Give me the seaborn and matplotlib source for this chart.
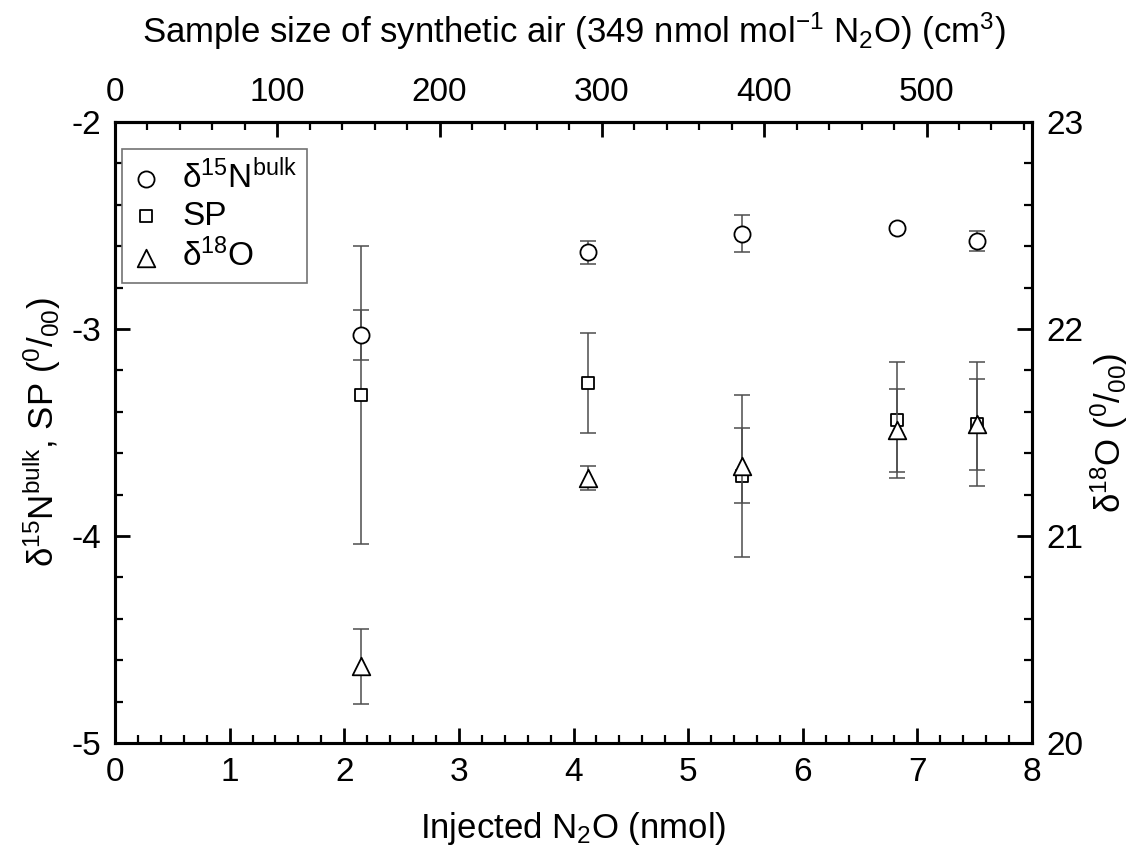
import numpy as np
import pandas as pd
import matplotlib
matplotlib.use("Agg")
import matplotlib.pyplot as plt
import seaborn as sns
from matplotlib.ticker import MultipleLocator, FixedLocator

# ---- data ----
injected_nmol = [2.15, 4.13, 5.47, 6.82, 7.52]
d15n_bulk = [-3.03, -2.63, -2.54, -2.51, -2.575]
d15n_err = [0.12, 0.055, 0.09, 0.01, 0.05]
sp_vals = [-3.32, -3.26, -3.71, -3.44, -3.46]
sp_err = [0.72, 0.24, 0.39, 0.28, 0.30]
d18o_vals = [20.37, 21.28, 21.34, 21.51, 21.54]
d18o_err = [0.18, 0.06, 0.18, 0.20, 0.22]
top_ticks = [0, 100, 200, 300, 400, 500]
cm3_per_nmol = 565.0 / 8.0  # top-axis conversion

sns.set_theme(style="ticks")
plt.rcParams["font.family"] = ["Liberation Sans", "DejaVu Sans"]
plt.rcParams["mathtext.fontset"] = "custom"
plt.rcParams["mathtext.rm"] = "Liberation Sans"
plt.rcParams["mathtext.it"] = "Liberation Sans:italic"
plt.rcParams["mathtext.bf"] = "Liberation Sans:bold"
plt.rcParams["axes.unicode_minus"] = False
for k in ("text.color", "axes.labelcolor", "xtick.color", "ytick.color", "axes.edgecolor"):
    plt.rcParams[k] = "black"

fig = plt.figure(figsize=(11.37, 8.5), dpi=100)
ax = fig.add_axes([115 / 1137, 1 - 743 / 850, (1032 - 115) / 1137, (743 - 122) / 850])
ax2 = ax.twinx()

df = pd.DataFrame({"x": injected_nmol, "d15n": d15n_bulk, "sp": sp_vals, "d18o": d18o_vals})

ebkw = dict(fmt="none", ecolor="0.3", elinewidth=1.1, capsize=5.5, capthick=1.1, zorder=1)
ax.errorbar(injected_nmol, d15n_bulk, yerr=d15n_err, **ebkw)
ax.errorbar(injected_nmol, sp_vals, yerr=sp_err, **ebkw)
ax2.errorbar(injected_nmol, d18o_vals, yerr=d18o_err, **ebkw)

lab15 = "δ$^{15}$N$^{\\mathrm{bulk}}$"
lab18 = "δ$^{18}$O"
sns.scatterplot(data=df, x="x", y="d15n", ax=ax, marker="o", s=135, facecolor="white",
                edgecolor="black", linewidth=1.3, label=lab15, zorder=3, legend=False)
sns.scatterplot(data=df, x="x", y="sp", ax=ax, marker="s", s=80, facecolor="white",
                edgecolor="black", linewidth=1.3, label="SP", zorder=3, legend=False)
sns.scatterplot(data=df, x="x", y="d18o", ax=ax2, marker="^", s=160, facecolor="white",
                edgecolor="black", linewidth=1.3, label=lab18, zorder=3, legend=False)

ax.set_xlim(0, 8)
ax.set_ylim(-5, -2)
ax2.set_ylim(20, 23)

ax.xaxis.set_major_locator(MultipleLocator(1))
ax.xaxis.set_minor_locator(MultipleLocator(0.2))
ax.yaxis.set_major_locator(MultipleLocator(1))
ax.yaxis.set_minor_locator(MultipleLocator(0.2))
ax2.yaxis.set_major_locator(MultipleLocator(1))
ax2.yaxis.set_minor_locator(MultipleLocator(0.2))

secx = ax.secondary_xaxis("top", functions=(lambda v: v * cm3_per_nmol, lambda v: v / cm3_per_nmol))
secx.xaxis.set_major_locator(FixedLocator(top_ticks))
secx.xaxis.set_minor_locator(FixedLocator(list(range(0, 561, 20))))

fs = 24
for a in (ax, ax2):
    for sp in a.spines.values():
        sp.set_linewidth(2.2)
        sp.set_color("black")
ax.tick_params(axis="both", which="major", direction="in", length=11, width=2, labelsize=fs, pad=10, colors="black")
ax.tick_params(axis="both", which="minor", direction="in", length=6, width=1.6, colors="black")
ax.tick_params(axis="x", top=False)
ax.tick_params(axis="y", right=False)
ax2.tick_params(axis="y", which="major", direction="in", length=11, width=2, labelsize=fs, pad=10, colors="black")
ax2.tick_params(axis="y", which="minor", direction="in", length=6, width=1.6, colors="black")
secx.tick_params(axis="x", which="major", direction="in", length=11, width=2, labelsize=fs, pad=10, colors="black")
secx.tick_params(axis="x", which="minor", direction="in", length=6, width=1.6, colors="black")
secx.spines["top"].set_linewidth(2.2)

ax.set_xlabel(r"Injected N$_2$O (nmol)", fontsize=fs + 1, labelpad=16)
ax.set_ylabel("δ$^{15}$N$^{\\mathrm{bulk}}$, SP ($^{0}/_{00}$)", fontsize=fs + 1, labelpad=6)
ax2.set_ylabel("δ$^{18}$O ($^{0}/_{00}$)", fontsize=fs + 1, labelpad=4)
secx.set_xlabel(r"Sample size of synthetic air (349 nmol mol$^{-1}$ N$_2$O) (cm$^3$)", fontsize=fs + 1, labelpad=25)

h1, l1 = ax.get_legend_handles_labels()
h2, l2 = ax2.get_legend_handles_labels()
leg = ax.legend(h1 + h2, l1 + l2, loc="upper left", bbox_to_anchor=(0.008, 0.957), borderaxespad=0,
                fontsize=fs, frameon=True, fancybox=False, edgecolor="0.45", framealpha=1,
                borderpad=0.3, handlelength=0.8, handletextpad=0.7, labelspacing=0.2, markerscale=1.0)
leg.get_frame().set_linewidth(1.2)
leg.set_zorder(5)

fig.savefig("out.png", dpi=100)
